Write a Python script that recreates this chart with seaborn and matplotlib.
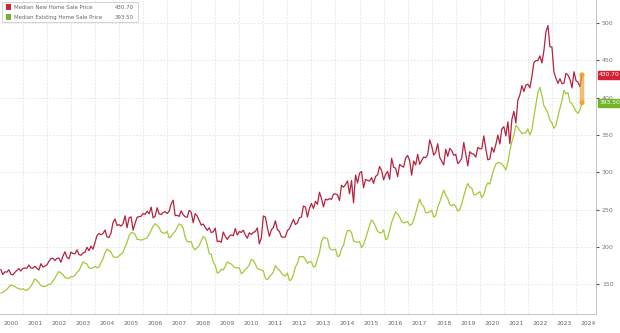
import numpy as np
import pandas as pd
import matplotlib
matplotlib.use("Agg")
import matplotlib.pyplot as plt
from matplotlib.patches import Rectangle
import seaborn as sns

years = list(range(2000, 2025))

new_home = [
    # 2000
    169.8, 162.9, 166.6, 166.1, 169.4, 163.6, 162.4, 165.9, 168.4, 170.9, 167.7, 171.1,
    # 2001
    171.5, 171.5, 175.7, 171.7, 171.4, 174.1, 171.4, 169.0, 177.5, 172.9, 174.2, 176.0,
    # 2002
    180.5, 184.1, 184.8, 181.8, 184.5, 185.0, 179.5, 187.6, 193.4, 186.0, 184.0, 193.0,
    # 2003
    191.3, 190.6, 196.0, 189.8, 188.7, 191.7, 192.8, 199.5, 194.9, 201.1, 196.8, 205.9,
    # 2004
    215.2, 218.0, 216.3, 218.1, 222.6, 213.4, 212.7, 218.8, 232.8, 237.5, 228.6, 229.8,
    # 2005
    227.9, 231.1, 241.7, 225.7, 238.9, 240.3, 222.4, 231.6, 239.8, 240.4, 241.1, 244.8,
    # 2006
    243.6, 247.8, 244.4, 253.4, 239.0, 241.1, 252.5, 244.3, 243.4, 246.2, 247.2, 244.8,
    # 2007
    247.8, 257.6, 262.6, 241.9, 242.4, 240.9, 248.3, 243.1, 240.3, 239.8, 249.0, 246.5,
    # 2008
    232.4, 244.5, 241.4, 235.3, 229.2, 230.7, 226.1, 222.2, 225.6, 219.1, 220.3, 225.1,
    # 2009
    207.0, 207.9, 206.3, 219.9, 214.2, 210.0, 214.3, 216.1, 214.9, 224.6, 215.9, 220.6,
    # 2010
    219.4, 222.4, 216.0, 211.6, 218.9, 216.7, 219.4, 220.6, 225.4, 204.0, 212.2, 241.5,
    # 2011
    240.1, 225.8, 214.2, 222.9, 226.0, 235.0, 223.2, 220.9, 213.4, 213.0, 213.3, 221.9,
    # 2012
    224.3, 230.8, 236.9, 230.0, 232.1, 239.2, 239.9, 254.9, 253.3, 240.0, 251.7, 258.3,
    # 2013
    251.5, 261.0, 257.1, 273.3, 264.8, 253.7, 264.1, 262.9, 264.8, 263.6, 270.7, 271.1,
    # 2014
    269.8, 262.2, 282.5, 280.1, 283.7, 288.4, 271.1, 289.0, 259.0, 296.4, 285.7, 298.8,
    # 2015
    301.0, 279.3, 290.5, 289.1, 288.2, 292.9, 285.2, 294.5, 296.5, 307.8, 302.3, 289.9,
    # 2016
    297.2, 301.3, 290.5, 318.8, 306.9, 305.5, 294.1, 310.6, 308.2, 306.9, 319.3, 322.5,
    # 2017
    315.8, 296.2, 315.1, 309.8, 324.1, 310.8, 315.7, 320.5, 319.6, 323.8, 343.4, 335.4,
    # 2018
    323.0, 326.8, 338.3, 319.9, 315.1, 309.8, 330.9, 321.4, 332.1, 329.1, 322.8, 324.1,
    # 2019
    311.7, 314.2, 319.2, 340.1, 324.1, 308.6, 327.6, 325.0, 324.4, 320.3, 333.3, 331.3,
    # 2020
    331.8, 348.8, 331.3, 316.7, 317.9, 333.3, 327.0, 337.3, 349.9, 337.9, 358.2, 361.2,
    # 2021
    348.8, 367.7, 338.3, 370.8, 381.7, 366.0, 396.7, 403.8, 416.2, 408.2, 416.9, 418.2,
    # 2022
    413.2, 428.6, 447.3, 449.6, 449.9, 456.1, 446.5, 463.3, 488.3, 496.8, 468.3, 467.8,
    # 2023
    434.2, 426.2, 419.2, 425.5, 418.8, 419.5, 432.7, 430.3, 424.6, 413.2, 434.8, 422.8,
    # 2024
    420.7, 414.8, 430.7,
]

existing_home = [
    # 2000
    138, 139, 141, 143, 146, 149, 148, 147, 145, 144, 143, 144,
    # 2001
    142, 142, 144, 147, 152, 157, 155, 152, 148, 147, 147, 148,
    # 2002
    150, 150, 154, 158, 163, 167, 165, 163, 159, 158, 158, 160,
    # 2003
    160, 162, 166, 168, 174, 180, 178, 177, 172, 171, 172, 174,
    # 2004
    172, 173, 179, 184, 192, 197, 195, 193, 187, 186, 186, 188,
    # 2005
    190, 193, 200, 206, 215, 219, 219, 217, 210, 210, 209, 210,
    # 2006
    211, 212, 217, 222, 228, 231, 229, 226, 220, 219, 218, 221,
    # 2007
    212, 214, 218, 221, 226, 231, 229, 225, 213, 207, 207, 207,
    # 2008
    199, 196, 199, 202, 208, 214, 212, 203, 191, 190, 180, 175,
    # 2009
    165, 166, 170, 169, 174, 180, 178, 177, 174, 172, 172, 172,
    # 2010
    164, 166, 170, 172, 176, 183, 182, 177, 171, 170, 169, 168,
    # 2011
    158, 156, 160, 163, 166, 175, 171, 169, 165, 162, 161, 165,
    # 2012
    155, 156, 163, 173, 178, 187, 187, 187, 183, 178, 180, 180,
    # 2013
    173, 174, 184, 192, 207, 213, 212, 211, 199, 196, 196, 197,
    # 2014
    187, 188, 197, 202, 214, 222, 222, 219, 208, 207, 206, 207,
    # 2015
    199, 203, 211, 220, 229, 236, 233, 227, 221, 219, 219, 223,
    # 2016
    210, 211, 222, 233, 240, 247, 244, 240, 234, 232, 233, 234,
    # 2017
    229, 230, 236, 245, 255, 264, 257, 254, 246, 246, 247, 249,
    # 2018
    240, 242, 253, 260, 268, 276, 269, 265, 257, 255, 257, 254,
    # 2019
    248, 250, 258, 268, 278, 285, 280, 279, 270, 270, 272, 274,
    # 2020
    266, 270, 280, 286, 284, 295, 304, 311, 313, 313, 311, 308,
    # 2021
    303, 313, 329, 341, 350, 363, 360, 356, 352, 353, 353, 358,
    # 2022
    350, 357, 375, 391, 407, 414, 403, 389, 385, 379, 370, 366,
    # 2023
    359, 363, 375, 386, 396, 410, 405, 407, 394, 392, 387, 382,
    # 2024
    379, 384, 393.5,
]

y_ticks = [150, 200, 250, 300, 350, 400, 450, 500]
series_names = ["Median New Home Sale Price", "Median Existing Home Sale Price"]
last_labels = ["430.70", "393.50"]

n = len(new_home)
t = np.array([2000 + (i + 1) / 12 for i in range(n)])
df = pd.DataFrame({
    "t": np.concatenate([t, t]),
    "value": np.array(new_home + existing_home, dtype=float),
    "series": [series_names[0]] * n + [series_names[1]] * n,
})

red_line = "#b5233f"
green_line = "#a3c93a"
red_box = "#d52135"
green_box = "#72b52a"

sns.set_style("white")
fig = plt.figure(figsize=(6.2, 3.33), dpi=100)
ax = fig.add_axes([0.0, 0.057, 0.962, 0.943])

sns.lineplot(data=df, x="t", y="value", hue="series",
             palette={series_names[0]: red_line, series_names[1]: green_line},
             linewidth=0.9, legend=False, ax=ax)

# orange highlight joining the latest readings
ax.plot([t[-1], t[-1]], [existing_home[-1], new_home[-1]], color="#f0a030",
        lw=3.2, alpha=0.7, solid_capstyle="round", zorder=5)
ax.scatter([t[-1], t[-1]], [existing_home[-1], new_home[-1]], s=14,
           color="#f0a030", alpha=0.8, zorder=6, edgecolor="none")

ax.set_xlim(2000.05, 2024.85)
ax.set_ylim(110, 531)

ax.set_xticks([y + 0.5 for y in years])
ax.set_xticklabels([str(y) for y in years], fontsize=4.3, color="#666666")
ax.set_xticks(years[1:], minor=True)
ax.tick_params(axis="x", which="major", length=0, pad=5)
ax.tick_params(axis="x", which="minor", length=12, width=0.5, color="#cccccc")

ax.yaxis.tick_right()
ax.set_yticks(y_ticks)
ax.set_yticklabels([str(v) for v in y_ticks], fontsize=4.5, color="#777777")
ax.tick_params(axis="y", length=2.5, width=0.8, color="#555555", pad=1.5)

ax.grid(True, which="minor", axis="x", color="#e2e2e2", linestyle=(0, (3, 2)), linewidth=0.5)
ax.grid(True, which="major", axis="y", color="#e2e2e2", linestyle=(0, (3, 2)), linewidth=0.5)
ax.set_axisbelow(True)

for s in ["top", "left"]:
    ax.spines[s].set_visible(False)
ax.spines["right"].set_color("#bbbbbb")
ax.spines["bottom"].set_color("#bbbbbb")
ax.spines["right"].set_linewidth(0.6)
ax.spines["bottom"].set_linewidth(0.6)
ax.set_xlabel("")
ax.set_ylabel("")

# value boxes on the right axis
for val, lab, col in [(new_home[-1], last_labels[0], red_box), (existing_home[-1], last_labels[1], green_box)]:
    ax.annotate(lab, xy=(1.0, val), xycoords=("axes fraction", "data"),
                xytext=(2, 0), textcoords="offset points",
                fontsize=4.3, color="white", va="center", ha="left",
                bbox=dict(boxstyle="square,pad=0.25", fc=col, ec=col))

# legend box
fig.patches.append(Rectangle((0.004, 0.935), 0.218, 0.06, transform=fig.transFigure,
                             fc="white", ec="#cccccc", lw=0.6))
for i, (name, lab, col) in enumerate(zip(series_names, last_labels, [red_box, green_box])):
    yy = 0.978 - i * 0.03
    fig.patches.append(Rectangle((0.009, yy - 0.009), 0.009, 0.018, transform=fig.transFigure,
                                 fc=col, ec="none"))
    fig.text(0.022, yy, name, fontsize=3.9, color="#666666", va="center", ha="left")
    fig.text(0.216, yy, lab, fontsize=3.9, color="#666666", va="center", ha="right")

fig.savefig("out.png", dpi=100)
